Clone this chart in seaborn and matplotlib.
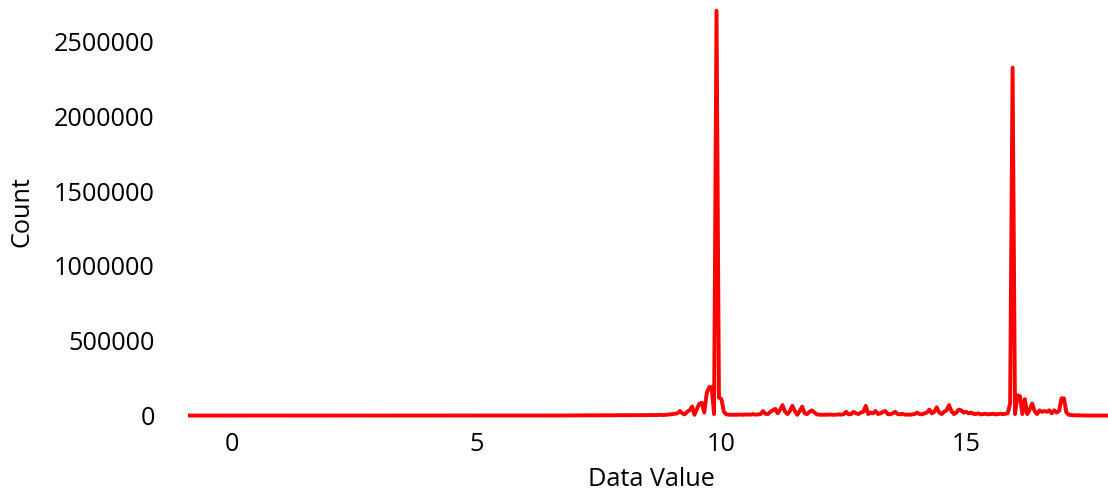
import numpy as np
import pandas as pd
import matplotlib
matplotlib.use("Agg")
import matplotlib.pyplot as plt
import seaborn as sns

# Bin centres of the histogram (0.05 wide bins from -0.9 to 17.9)
bin_start, bin_end, bin_width = -0.9, 17.9, 0.05

# Counts per bin, one row per unit of data value
counts = [
    # -0.9 .. -0.05
    0, 0, 0, 0, 0, 0, 0, 0, 0, 0, 0, 0, 0, 0, 0, 0, 0, 0,
    # 0.0 .. 0.95
    0, 0, 0, 0, 0, 0, 0, 0, 0, 0, 0, 0, 0, 0, 0, 0, 0, 0, 0, 0,
    # 1.0 .. 1.95
    0, 0, 0, 0, 0, 0, 0, 0, 0, 0, 0, 0, 0, 0, 0, 0, 0, 0, 0, 0,
    # 2.0 .. 2.95
    0, 0, 0, 0, 0, 0, 0, 0, 0, 0, 0, 0, 0, 0, 0, 0, 0, 0, 0, 0,
    # 3.0 .. 3.95
    0, 0, 0, 0, 0, 0, 0, 0, 0, 0, 0, 0, 0, 0, 0, 0, 0, 0, 0, 0,
    # 4.0 .. 4.95
    0, 0, 0, 0, 0, 0, 0, 0, 0, 0, 0, 0, 0, 0, 0, 0, 0, 0, 0, 0,
    # 5.0 .. 5.95
    0, 0, 0, 0, 0, 0, 0, 0, 0, 0, 0, 0, 0, 0, 0, 0, 0, 0, 0, 0,
    # 6.0 .. 6.95
    0, 0, 0, 0, 0, 0, 0, 0, 0, 0, 0, 0, 500, 0, 500, 500, 0, 500, 1000, 500,
    # 7.0 .. 7.95
    1000, 1000, 1500, 1000, 2000, 1500, 1000, 1500, 2000, 1500,
    1000, 2000, 2500, 1500, 2000, 2000, 1500, 2500, 2000, 3000,
    # 8.0 .. 8.95
    2000, 2500, 3000, 2000, 2500, 3000, 2500, 3000, 3500, 2500,
    3000, 3500, 4000, 3000, 4000, 5000, 3000, 5000, 6000, 8000,
    # 9.0 .. 9.95
    10000, 12000, 15000, 30000, 15000, 8000, 25000, 35000, 60000, 5000,
    45000, 80000, 85000, 20000, 150000, 190000, 190000, 10000, 2706000, 120000,
    # 10.0 .. 10.95
    110000, 25000, 8000, 6000, 5000, 6000, 5000, 7000, 6000, 5000,
    8000, 6000, 7000, 9000, 6000, 8000, 10000, 30000, 12000, 10000,
    # 11.0 .. 11.95
    25000, 35000, 45000, 15000, 40000, 70000, 25000, 10000, 30000, 65000,
    30000, 5000, 30000, 60000, 15000, 10000, 25000, 35000, 20000, 8000,
    # 12.0 .. 12.95
    6000, 5000, 6000, 5000, 7000, 6000, 5000, 6000, 8000, 6000,
    10000, 25000, 8000, 10000, 25000, 15000, 10000, 20000, 25000, 65000,
    # 13.0 .. 13.95
    10000, 20000, 15000, 30000, 10000, 15000, 25000, 30000, 10000, 8000,
    15000, 25000, 10000, 8000, 12000, 6000, 7000, 5000, 8000, 10000,
    # 14.0 .. 14.95
    20000, 10000, 8000, 15000, 20000, 40000, 15000, 25000, 55000, 20000,
    10000, 25000, 35000, 70000, 30000, 10000, 20000, 40000, 35000, 20000,
    # 15.0 .. 15.95
    25000, 15000, 20000, 12000, 10000, 15000, 8000, 10000, 12000, 8000,
    10000, 12000, 8000, 10000, 12000, 10000, 12000, 15000, 80000, 2325000,
    # 16.0 .. 16.95
    10000, 135000, 130000, 10000, 110000, 10000, 40000, 80000, 30000, 10000,
    35000, 25000, 30000, 25000, 35000, 15000, 35000, 20000, 30000, 115000,
    # 17.0 .. 17.9
    115000, 20000, 5000, 3000, 2000, 2000, 1000, 1000, 1000, 0,
    0, 0, 0, 0, 0, 0, 0, 0, 0,
]

x_ticks = [0, 5, 10, 15]
y_ticks = [0, 500000, 1000000, 1500000, 2000000, 2500000]

n_bins = int(round((bin_end - bin_start) / bin_width)) + 1
data_value = np.round(np.linspace(bin_start, bin_end, n_bins), 2)
df = pd.DataFrame({"Data Value": data_value, "Count": counts})

sns.set_theme(style="white")
plt.rcParams["font.family"] = ["Open Sans", "DejaVu Sans"]

fig = plt.figure(figsize=(11.08, 4.97), dpi=100)
ax = fig.add_axes([188 / 1108, 1 - 422 / 497, 920 / 1108, 422 / 497])

sns.lineplot(data=df, x="Data Value", y="Count", color="#ff0000",
             linewidth=2.8, ax=ax, solid_joinstyle="round")

ax.set_xlim(bin_start, bin_end)
ax.set_ylim(-43000, 2777000)
ax.set_xticks(x_ticks)
ax.set_yticks(y_ticks)
ax.set_xticklabels([str(t) for t in x_ticks])
ax.set_yticklabels([str(t) for t in y_ticks])

for side in ["top", "right", "left", "bottom"]:
    ax.spines[side].set_visible(False)

ax.tick_params(axis="x", length=1.5, width=0.8, color="#cccccc",
               pad=6, labelsize=18.2, labelcolor="#000000")
ax.tick_params(axis="y", length=0, pad=24, labelsize=18.2,
               labelcolor="#000000")

ax.set_xlabel("Data Value", fontsize=18.2, color="#000000")
ax.set_ylabel("Count", fontsize=18.2, color="#000000")
ax.xaxis.set_label_coords((651 - 188) / 920, -(479 - 422) / 422)
ax.yaxis.set_label_coords((22 - 188) / 920, (422 - 212) / 422)
ax.xaxis.label.set_va("center")
ax.yaxis.label.set_va("center")

fig.savefig("out.png", dpi=100)
